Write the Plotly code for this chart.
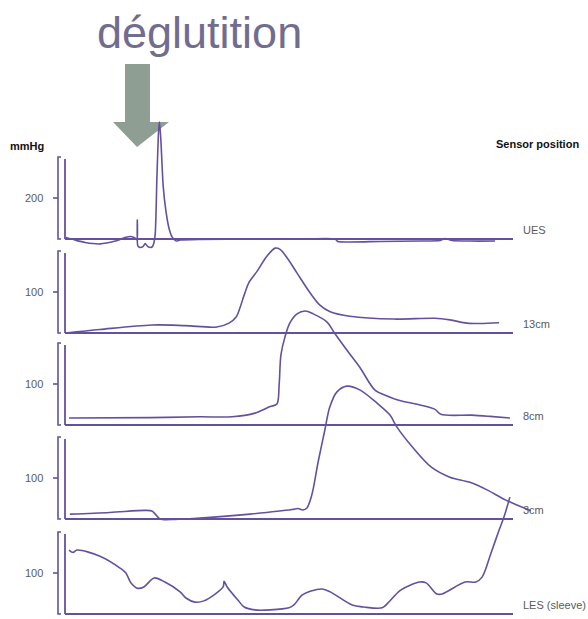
import plotly.graph_objects as go

# Sensor channels, top to bottom
channels = ["UES", "13cm", "8cm", "3cm", "LES (sleeve)"]
tick_values = [200, 100, 100, 100, 100]

ues_t = [0.02, 0.22, 0.45, 0.78, 1.12, 1.34, 1.47, 1.56, 1.61, 1.614, 1.625, 1.67, 1.74, 1.79,
         1.85, 1.92, 1.96, 2.01, 2.05, 2.09, 2.11, 2.14, 2.19, 2.25, 2.32, 2.39, 2.48, 2.57,
         3.01, 4.13, 5.25, 6.03, 6.09, 7.03, 7.92, 8.37, 8.48, 8.64, 9.04, 9.60]
ues_p = [7, -5, -17, -24, -10, 7, 12, 5, -5, 93, -34, -41, -37, -22,
         -37, -41, -34, 15, 288, 532, 571, 483, 263, 141, 54, 10, -10, -5,
         -2, -1, 0, 0, -12, -12, -10, -7, 2, -7, -10, -10]

cm13_t = [0.02, 0.78, 1.94, 2.68, 3.39, 3.66, 3.82, 3.91, 4.00, 4.11, 4.29, 4.49, 4.69, 4.80,
          4.96, 5.18, 5.47, 5.69, 5.92, 6.36, 7.34, 8.26, 8.59, 8.97, 9.26, 9.69]
cm13_p = [0, 8.5, 19.5, 18, 14.6, 24, 39, 63, 93, 124, 151, 185, 207, 204,
          183, 146, 98, 68, 52, 41, 34, 36, 32, 24, 23, 25]

cm8_t = [0.09, 1.90, 3.01, 3.73, 4.24, 4.58, 4.73, 4.78, 4.82, 4.91, 5.02, 5.18, 5.36, 5.54,
         5.85, 6.00, 6.29, 6.58, 6.92, 7.19, 7.43, 7.92, 8.26, 8.39, 9.08, 9.49, 9.93]
cm8_p = [17, 18, 20, 20, 29, 45, 51, 98, 171, 215, 249, 271, 278, 271,
         251, 227, 183, 141, 85, 71, 61, 49, 38, 26, 24, 21, 17]

cm3_t = [0.11, 1.00, 1.79, 1.94, 2.03, 2.12, 2.46, 3.01, 4.13, 5.07, 5.20, 5.31, 5.40, 5.51,
         5.65, 5.80, 5.91, 6.07, 6.29, 6.58, 6.96, 7.25, 7.41, 7.75, 8.17, 8.59, 9.02, 9.42,
         9.84, 10.40]
cm3_p = [12, 16, 21, 19.5, 10, 0, -1, 2.4, 12, 23, 25.6, 22, 27, 59,
         139, 217, 273, 310, 324, 315, 283, 254, 224, 176, 127, 102, 90, 71,
         46, 20]

les_t = [0.09, 0.18, 0.27, 0.78, 1.23, 1.36, 1.47, 1.61, 1.76, 1.99, 2.23, 2.57, 2.70, 2.90,
         3.10, 3.53, 3.55, 3.62, 3.86, 4.00, 4.24, 4.58, 5.00, 5.11, 5.29, 5.49, 5.74, 5.92,
         6.41, 6.67, 7.08, 7.21, 7.50, 7.92, 8.06, 8.30, 8.42, 8.93, 9.17, 9.31, 9.51, 9.69,
         9.80, 9.93]
les_p = [156, 150, 156, 141, 112, 100, 76, 63, 66, 88, 78, 54, 39, 29,
         32, 66, 80, 66, 34, 17, 10, 10, 15, 22, 46, 56, 61, 54,
         22, 17, 15, 27, 59, 78, 76, 49, 49, 78, 78, 90, 149, 205,
         237, 285]

series_t = [ues_t, cm13_t, cm8_t, cm3_t, les_t]
series_p = [ues_p, cm13_p, cm8_p, cm3_p, les_p]

# Layout of the stacked panels (page pixels)
W, H = 588, 619
baselines = [239, 333, 425, 519, 614]
gains = [0.205, 0.41, 0.41, 0.41, 0.41]   # px per mmHg
panel_h = 82
px_per_s = 44.8
x0_px = 65

purple = "#64519d"
grey_txt = "#5a5a5a"
narrow = "Liberation Sans Narrow, Arial Narrow, Liberation Sans, Arial"


def tx(px):
    return (px - x0_px) / px_per_s


def ty(py):
    return H - py


fig = go.Figure()

for k in range(len(channels)):
    off = H - baselines[k]
    fig.add_trace(go.Scatter(
        x=series_t[k],
        y=[off + gains[k] * p for p in series_p[k]],
        mode="lines",
        line=dict(color=purple, width=1.6, shape="spline", smoothing=0.6 if k == 0 else 0.9),
        hoverinfo="skip", showlegend=False))

shapes = []
annotations = []
for k, name in enumerate(channels):
    b = baselines[k]
    top = b - panel_h
    line = dict(color=purple, width=1.8)
    # baseline
    shapes.append(dict(type="line", x0=tx(65), x1=tx(513), y0=ty(b), y1=ty(b), line=line))
    # axis line
    shapes.append(dict(type="line", x0=tx(65), x1=tx(65), y0=ty(b), y1=ty(top + 2), line=line))
    # bracket
    shapes.append(dict(type="path",
                       path=f"M {tx(61)} {ty(top)} L {tx(58)} {ty(top)} L {tx(58)} {ty(b)} L {tx(61)} {ty(b)}",
                       line=dict(color=purple, width=1.6)))
    mid = b - gains[k] * tick_values[k]
    shapes.append(dict(type="line", x0=tx(53), x1=tx(58), y0=ty(mid), y1=ty(mid),
                       line=dict(color=purple, width=1.6)))
    annotations.append(dict(x=tx(45), y=ty(mid), text=str(tick_values[k]), showarrow=False,
                            xanchor="right", yanchor="middle",
                            font=dict(family=narrow, size=11, color=grey_txt)))
    annotations.append(dict(x=tx(521), y=ty(b - 9), text=name, showarrow=False,
                            xanchor="left", yanchor="middle",
                            font=dict(family=narrow, size=11, color=grey_txt)))

# arrow
arrow = [(125, 64), (150, 64), (150, 122), (169, 122), (137, 147), (113, 122), (125, 122)]
path = "M " + " L ".join(f"{tx(x)} {ty(y)}" for x, y in arrow) + " Z"
shapes.append(dict(type="path", path=path, fillcolor="#8e9e93", line=dict(width=0), layer="below"))

annotations += [
    dict(x=tx(199), y=ty(32), text="déglutition", showarrow=False, xanchor="center", yanchor="middle",
         font=dict(family="Liberation Sans, Arial", size=45, color="#716d8f")),
    dict(x=tx(8), y=ty(146), text="<b>mmHg</b>", showarrow=False, xanchor="left", yanchor="middle",
         font=dict(family=narrow, size=11, color="#111111")),
    dict(x=tx(581), y=ty(144), text="<b>Sensor position</b>", showarrow=False, xanchor="right",
         yanchor="middle", font=dict(family=narrow, size=11, color="#111111")),
]

fig.update_layout(
    width=W, height=H,
    margin=dict(l=0, r=0, t=0, b=0),
    paper_bgcolor="white", plot_bgcolor="white",
    xaxis=dict(range=[tx(0), tx(W)], visible=False),
    yaxis=dict(range=[ty(H), ty(0)], visible=False),
    shapes=shapes, annotations=annotations,
)

# drop the default 8px body margin so the figure fills the window exactly
fig.write_html("out.html", config={"displayModeBar": False},
               post_script="document.body.style.margin = '0';")
